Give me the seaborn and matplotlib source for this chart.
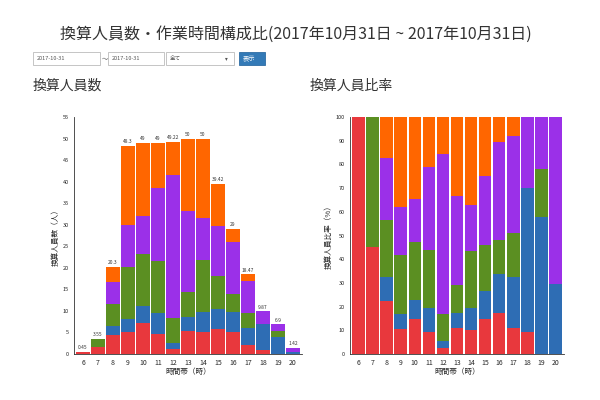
import matplotlib
matplotlib.use("Agg")
import matplotlib.pyplot as plt
import seaborn as sns
import numpy as np
import pandas as pd
from matplotlib.patches import Rectangle

hours = [6, 7, 8, 9, 10, 11, 12, 13, 14, 15, 16, 17, 18, 19, 20]
red    = [0.45, 1.6, 4.5, 5.0, 7.3, 4.6, 1.2, 5.4, 5.0, 5.8, 5.0, 2.0, 0.9, 0.0, 0.0]
blue   = [0.0, 0.0, 2.1, 3.2, 3.9, 4.9, 1.4, 3.3, 4.7, 4.7, 4.8, 4.0, 6.0, 4.0, 0.42]
green  = [0.0, 1.95, 4.9, 12.0, 12.0, 12.0, 5.8, 5.8, 12.0, 7.6, 4.2, 3.4, 0.0, 1.4, 0.0]
purple = [0.0, 0.0, 5.3, 9.7, 8.8, 17.1, 33.2, 18.8, 9.8, 11.5, 12.0, 7.6, 2.97, 1.5, 1.0]
orange = [0.0, 0.0, 3.5, 18.4, 17.0, 10.4, 7.62, 16.7, 18.5, 9.82, 3.0, 1.47, 0.0, 0.0, 0.0]
total_labels = ["0.45", "3.55", "20.3", "48.3", "49", "49", "49.22", "50", "50",
                "39.42", "29", "18.47", "9.87", "6.9", "1.42"]
colors = ["#e8383d", "#2e6db4", "#5b8f22", "#9b30e8", "#ff6600"]

sns.set_theme(style="white")
plt.rcParams['font.family'] = ['Noto Sans CJK JP', 'DejaVu Sans']

fig = plt.figure(figsize=(6, 4), dpi=100)
fig.patch.set_facecolor("white")

fig.text(60 / 600, 0.915, "換算人員数・作業時間構成比(2017年10月31日 ~ 2017年10月31日)",
         fontsize=11.5, color="#333333", va="center")
def box(x, y, w, h, txt, fc="white", tc="#555555", ec="#bbbbbb", fs=4):
    fig.patches.append(Rectangle((x / 600, 1 - (y + h) / 400), w / 600, h / 400,
                                 transform=fig.transFigure, fc=fc, ec=ec, lw=0.6))
    fig.text((x + 4) / 600, 1 - (y + h / 2) / 400, txt, fontsize=fs, color=tc, va="center")
box(33, 52, 67, 13, "2017-10-31")
fig.text(102 / 600, 1 - 58.5 / 400, "～", fontsize=4.5, color="#555555", va="center")
box(108, 52, 56, 13, "2017-10-31")
box(166, 52, 68, 13, "全て")
fig.text(225 / 600, 1 - 58.5 / 400, "▾", fontsize=4, color="#555555", va="center")
box(239, 52, 26, 13, "表示", fc="#337ab7", tc="white", ec="#2e6da4", fs=4.5)

fig.text(33 / 600, 1 - 86 / 400, "換算人員数", fontsize=10, color="#333333", va="center")
fig.text(310 / 600, 1 - 86 / 400, "換算人員比率", fontsize=10, color="#333333", va="center")

layers = [red, blue, green, purple, orange]
arr = np.array(layers)
tot = arr.sum(axis=0)
pct = arr / tot * 100

def draw(ax, data, labels=None):
    bottom = np.zeros(len(hours))
    for vals, c in zip(data, colors):
        df = pd.DataFrame({"h": [str(h) for h in hours], "v": vals})
        ax.bar(df["h"], df["v"], bottom=bottom, color=c, width=0.88, edgecolor="none")
        bottom = bottom + np.array(vals)
    if labels:
        for i, (b, l) in enumerate(zip(bottom, labels)):
            ax.text(i, b + 0.4, l, ha="center", va="bottom", fontsize=3.5, color="#333333")
    for s in ["top", "right"]:
        ax.spines[s].set_visible(False)
    for s in ["left", "bottom"]:
        ax.spines[s].set_color("#333333")
        ax.spines[s].set_linewidth(0.6)
    ax.tick_params(axis="both", labelsize=5, length=2, width=0.5, color="#333333", pad=1.5)
    ax.tick_params(axis="y", labelsize=4)
    ax.set_xlim(-0.6, len(hours) - 0.4)
    ax.set_xlabel("時間帯（時）", fontsize=5.5, labelpad=1)

ax1 = fig.add_axes([74 / 600, 1 - 354 / 400, 228 / 600, 237 / 400])
draw(ax1, layers, total_labels)
ax1.set_ylim(0, 55)
ax1.set_yticks(range(0, 56, 5))
ax1.set_ylabel("換算人員数（人）", fontsize=5.5, labelpad=2)

ax2 = fig.add_axes([350 / 600, 1 - 354 / 400, 214 / 600, 237 / 400])
draw(ax2, list(pct))
ax2.set_ylim(0, 100)
ax2.set_yticks(range(0, 101, 10))
ax2.set_ylabel("換算人員比率（%）", fontsize=5.5, labelpad=2)

fig.savefig("out.png", dpi=100)
